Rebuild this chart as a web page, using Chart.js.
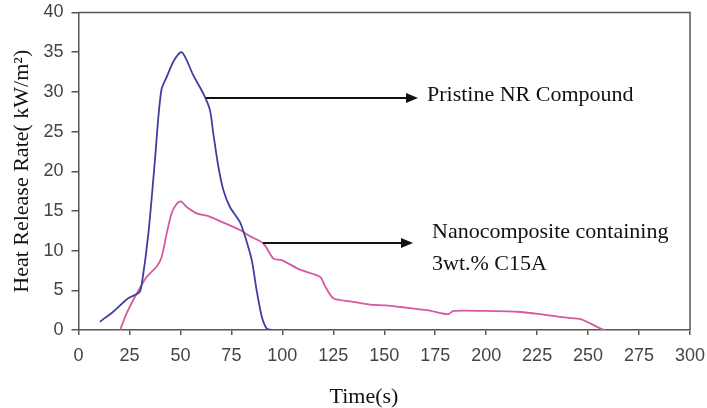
<!DOCTYPE html>
<html>
<head>
<meta charset="utf-8">
<script src="https://cdn.jsdelivr.net/npm/chart.js@4/dist/chart.umd.min.js"></script>
<style>
  html, body { margin: 0; padding: 0; background: #fff; }
  #wrap { width: 707px; height: 408px; }
</style>
</head>
<body>
<div id="wrap"><canvas id="hrr"></canvas></div>
<script>
// Pristine NR compound (blue)
const nrTime = [10.5, 17, 24.4, 29.7, 31, 34.3, 37.5, 39.2, 40.8, 43.3, 46.5, 50.3, 52.3, 56.3, 61.2, 64.5, 66.1, 68.6, 71.1, 74.3, 79.2, 81.7, 85, 87.4, 89.9, 92.3, 94.8];
const nrHrr  = [1.05, 2.3, 4.0, 4.7, 5.7, 12.2, 21.4, 26.9, 30.4, 31.9, 33.8, 35.0, 34.4, 32.1, 29.8, 27.7, 24.8, 20.6, 17.6, 15.5, 13.6, 11.8, 8.8, 5.0, 1.7, 0.2, 0];
// Nanocomposite containing 3wt.% C15A (pink)
const ncTime = [20.4, 23.6, 28.6, 33.5, 38.4, 40.8, 43.3, 45.7, 48.2, 50.3, 53.1, 58, 62.9, 67.8, 79.2, 84.2, 90.7, 95.6, 99.7, 108.7, 118.5, 121, 125, 133.2, 143, 151.2, 157.8, 170.9, 178.2, 181.5, 183.9, 198.6, 215, 226.4, 239.5, 246, 251, 255.9, 258.3];
const ncHrr  = [0, 2.1, 4.6, 6.7, 8.0, 9.2, 12.2, 14.7, 15.9, 16.2, 15.5, 14.7, 14.4, 13.9, 12.6, 11.8, 10.9, 9.0, 8.8, 7.6, 6.7, 5.5, 4.0, 3.6, 3.2, 3.1, 2.9, 2.5, 2.1, 2.0, 2.4, 2.4, 2.3, 2.0, 1.55, 1.4, 0.84, 0.2, 0];

const xTitle = "Time(s)";
const yTitle = "Heat Release Rate( kW/m\u00B2)";
const notes = [
  { lines: ["Pristine NR Compound"], from: [206, 98], to: [418, 98], textX: 427, textY: 101 },
  { lines: ["Nanocomposite containing", "3wt.% C15A"], from: [263, 243], to: [413, 243], textX: 432, textY: 238 }
];

const axisColor = '#555';
const serif = '"Liberation Serif", "Times New Roman", serif';

// frame (top + right), arrows, labels, x title
const extras = {
  id: 'extras',
  afterDraw(chart) {
    const ctx = chart.ctx, a = chart.chartArea;
    ctx.save();
    ctx.strokeStyle = axisColor;
    ctx.lineWidth = 1.5;
    ctx.beginPath();
    ctx.moveTo(a.left, a.top);
    ctx.lineTo(a.right, a.top);
    ctx.lineTo(a.right, a.bottom);
    ctx.stroke();

    ctx.fillStyle = '#111';
    ctx.strokeStyle = '#111';
    ctx.font = '22px ' + serif;
    notes.forEach(n => {
      ctx.lineWidth = 2;
      ctx.beginPath();
      ctx.moveTo(n.from[0], n.from[1]);
      ctx.lineTo(n.to[0] - 10, n.to[1]);
      ctx.stroke();
      ctx.beginPath();
      ctx.moveTo(n.to[0], n.to[1]);
      ctx.lineTo(n.to[0] - 12, n.to[1] - 5);
      ctx.lineTo(n.to[0] - 12, n.to[1] + 5);
      ctx.closePath();
      ctx.fill();
      n.lines.forEach((t, i) => ctx.fillText(t, n.textX, n.textY + i * 32));
    });

    ctx.textAlign = 'center';
    ctx.fillText(xTitle, 364, 403);
    ctx.restore();
  }
};

new Chart(document.getElementById('hrr'), {
  type: 'line',
  data: {
    datasets: [
      {
        label: 'Pristine NR Compound',
        data: nrTime.map((t, i) => ({ x: t, y: nrHrr[i] })),
        borderColor: '#3f3f9f',
        borderWidth: 1.8,
        pointRadius: 0,
        tension: 0.25
      },
      {
        label: 'Nanocomposite containing 3wt.% C15A',
        data: ncTime.map((t, i) => ({ x: t, y: ncHrr[i] })),
        borderColor: '#d65a9e',
        borderWidth: 1.8,
        pointRadius: 0,
        tension: 0.25
      }
    ]
  },
  options: {
    responsive: true,
    maintainAspectRatio: false,
    animation: false,
    layout: { padding: { top: 12.5, right: 17, left: 0, bottom: 0 } },
    plugins: { legend: { display: false }, tooltip: { enabled: false } },
    scales: {
      x: {
        type: 'linear',
        min: 0, max: 300,
        afterFit: s => { s.height = 78; s.paddingLeft = 0; s.paddingRight = 0; },
        ticks: { stepSize: 25, color: '#444', padding: 10, font: { family: '"Liberation Sans", Arial, sans-serif', size: 18 } },
        grid: { display: true, drawOnChartArea: false, drawTicks: true, tickLength: 5, color: axisColor, lineWidth: 1.5 },
        border: { display: true, color: axisColor, width: 1.5 }
      },
      y: {
        min: 0, max: 40,
        afterFit: s => { s.width = 78.5; s.paddingTop = 0; s.paddingBottom = 0; },
        ticks: { stepSize: 5, color: '#444', padding: 8, font: { family: '"Liberation Sans", Arial, sans-serif', size: 18 } },
        grid: { display: true, drawOnChartArea: false, drawTicks: true, tickLength: 7, color: axisColor, lineWidth: 1.5 },
        border: { display: true, color: axisColor, width: 1.5 },
        title: { display: true, text: yTitle, color: '#111', padding: { top: 9, bottom: 0 }, font: { family: serif, size: 22 } }
      }
    }
  },
  plugins: [extras]
});
</script>
</body>
</html>
